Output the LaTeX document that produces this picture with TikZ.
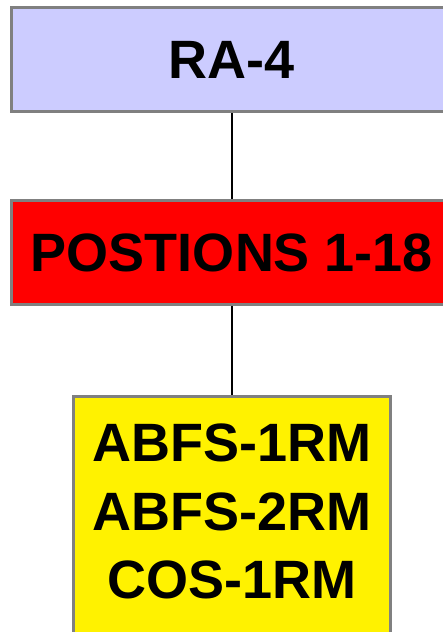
\documentclass[tikz,border=0pt]{standalone}
\usepackage{fontspec}
\setmainfont{Liberation Sans}
\definecolor{lav}{HTML}{CCCCFF}
\definecolor{bordergray}{HTML}{808080}
\begin{document}
\begin{tikzpicture}[x=1pt,y=1pt,
  box/.style={draw=bordergray,line width=3pt,rectangle,inner sep=0pt,
    font=\bfseries\fontsize{54}{68.5}\selectfont,align=center},
  conn/.style={line width=2.4pt,black}]
\useasboundingbox (0,0) rectangle (443,632);
\node[box,fill=lav,minimum width=442,minimum height=104] (ra) at (232,572) {RA-4};
\node[box,fill=red,minimum width=442,minimum height=104] (pos) at (232,379) {POSTIONS 1-18};
\node[box,fill=yellow,minimum width=317,minimum height=300,anchor=north] (yb) at (232,237) {};
\node[font=\bfseries\fontsize{54}{68.5}\selectfont,align=center,inner sep=0pt,anchor=north] (yt) at (232,208) {ABFS-1RM\\ABFS-2RM\\COS-1RM};
\draw[conn] (ra.south) -- (pos.north);
\draw[conn] (pos.south) -- (yb.north);
\end{tikzpicture}
\end{document}
